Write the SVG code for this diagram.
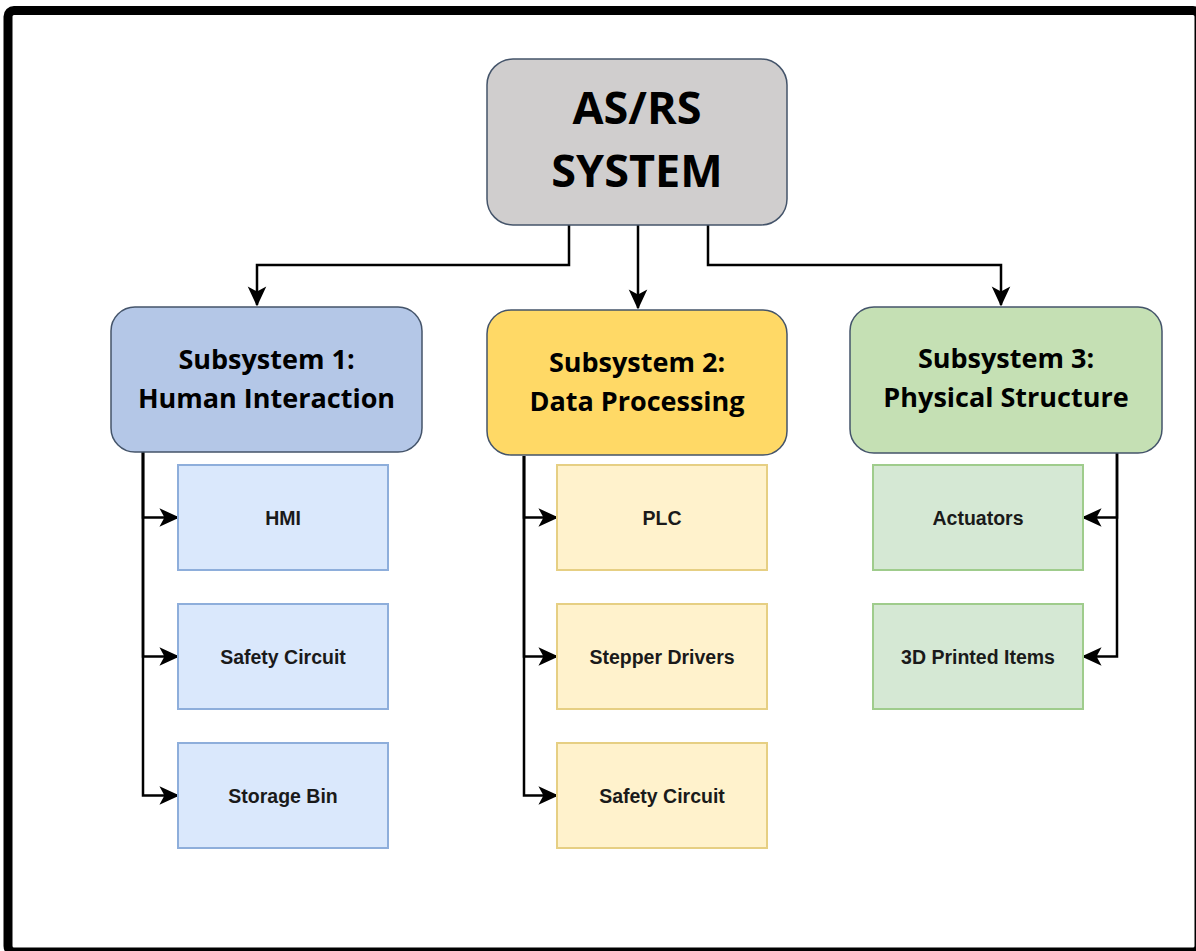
<svg xmlns="http://www.w3.org/2000/svg" width="1196" height="951" viewBox="0 0 1196 951">
  <defs>
    <marker id="arrow" viewBox="0 0 14 14" refX="13" refY="7" markerWidth="20" markerHeight="20" markerUnits="userSpaceOnUse" orient="auto">
      <path d="M0,0.5 L14,7 L0,13.5 L3.5,7 Z" fill="#000"/>
    </marker>
    <style>
      .frame { fill: #fff; stroke: #000; stroke-width: 9; }
      .main { fill: #d0cece; stroke: #44546a; stroke-width: 1.5; }
      .sub { stroke: #44546a; stroke-width: 1.5; }
      .s1 { fill: #b4c7e7; }
      .s2 { fill: #ffd966; }
      .s3 { fill: #c5e0b4; }
      .c1 { fill: #dae8fc; stroke: #8eaedb; stroke-width: 2; }
      .c2 { fill: #fff2cc; stroke: #e6cf83; stroke-width: 2; }
      .c3 { fill: #d5e8d4; stroke: #9fcc8c; stroke-width: 2; }
      .title { font-family: "Open Sans", "Noto Sans", sans-serif; font-weight: 700; font-size: 45px; fill: #000; text-anchor: middle; }
      .subt { font-family: "Open Sans", "Noto Sans", sans-serif; font-weight: 700; font-size: 27px; fill: #000; text-anchor: middle; }
      .lbl { font-family: "Liberation Sans", Arial, sans-serif; font-weight: 700; font-size: 19.5px; fill: #1a1a1a; text-anchor: middle; }
      .wire { fill: none; stroke: #000; stroke-width: 2.5; marker-end: url(#arrow); }
    </style>
  </defs>

  <!-- page frame -->
  <rect class="frame" x="8" y="10.5" width="1191" height="941.5" rx="6"/>

  <!-- connectors -->
  <g id="connectors">
    <path class="wire" d="M569,225 V265 H257 V305"/>
    <path class="wire" d="M638,225 V308"/>
    <path class="wire" d="M708,225 V265 H1001 V305"/>

    <path class="wire" d="M143,452 V517.5 H178"/>
    <path class="wire" d="M143,452 V656.5 H178"/>
    <path class="wire" d="M143,452 V795.5 H178"/>

    <path class="wire" d="M524,456 V517.5 H557"/>
    <path class="wire" d="M524,456 V656.5 H557"/>
    <path class="wire" d="M524,456 V795.5 H557"/>

    <path class="wire" d="M1117,453 V517.5 H1083"/>
    <path class="wire" d="M1117,453 V656.5 H1083"/>
  </g>

  <!-- top node -->
  <g id="asrs-system">
    <rect class="main" x="487" y="59" width="300" height="166" rx="26"/>
    <text class="title" x="637" y="124">AS/RS</text>
    <text class="title" x="637" y="187">SYSTEM</text>
  </g>

  <!-- subsystems -->
  <g id="subsystem-1">
    <rect class="sub s1" x="111" y="307" width="311" height="145" rx="24"/>
    <text class="subt" x="266.5" y="369">Subsystem 1:</text>
    <text class="subt" x="266.5" y="408">Human Interaction</text>
  </g>
  <g id="subsystem-2">
    <rect class="sub s2" x="487" y="310" width="300" height="145" rx="24"/>
    <text class="subt" x="637" y="372">Subsystem 2:</text>
    <text class="subt" x="637" y="411">Data Processing</text>
  </g>
  <g id="subsystem-3">
    <rect class="sub s3" x="850" y="307" width="312" height="146" rx="24"/>
    <text class="subt" x="1006" y="368">Subsystem 3:</text>
    <text class="subt" x="1006" y="407">Physical Structure</text>
  </g>

  <!-- subsystem 1 components -->
  <g id="hmi">
    <rect class="c1" x="178" y="465" width="210" height="105"/>
    <text class="lbl" x="283" y="524.5">HMI</text>
  </g>
  <g id="safety-circuit-1">
    <rect class="c1" x="178" y="604" width="210" height="105"/>
    <text class="lbl" x="283" y="663.5">Safety Circuit</text>
  </g>
  <g id="storage-bin">
    <rect class="c1" x="178" y="743" width="210" height="105"/>
    <text class="lbl" x="283" y="802.5">Storage Bin</text>
  </g>

  <!-- subsystem 2 components -->
  <g id="plc">
    <rect class="c2" x="557" y="465" width="210" height="105"/>
    <text class="lbl" x="662" y="524.5">PLC</text>
  </g>
  <g id="stepper-drivers">
    <rect class="c2" x="557" y="604" width="210" height="105"/>
    <text class="lbl" x="662" y="663.5">Stepper Drivers</text>
  </g>
  <g id="safety-circuit-2">
    <rect class="c2" x="557" y="743" width="210" height="105"/>
    <text class="lbl" x="662" y="802.5">Safety Circuit</text>
  </g>

  <!-- subsystem 3 components -->
  <g id="actuators">
    <rect class="c3" x="873" y="465" width="210" height="105"/>
    <text class="lbl" x="978" y="524.5">Actuators</text>
  </g>
  <g id="printed-items">
    <rect class="c3" x="873" y="604" width="210" height="105"/>
    <text class="lbl" x="978" y="663.5">3D Printed Items</text>
  </g>
</svg>
